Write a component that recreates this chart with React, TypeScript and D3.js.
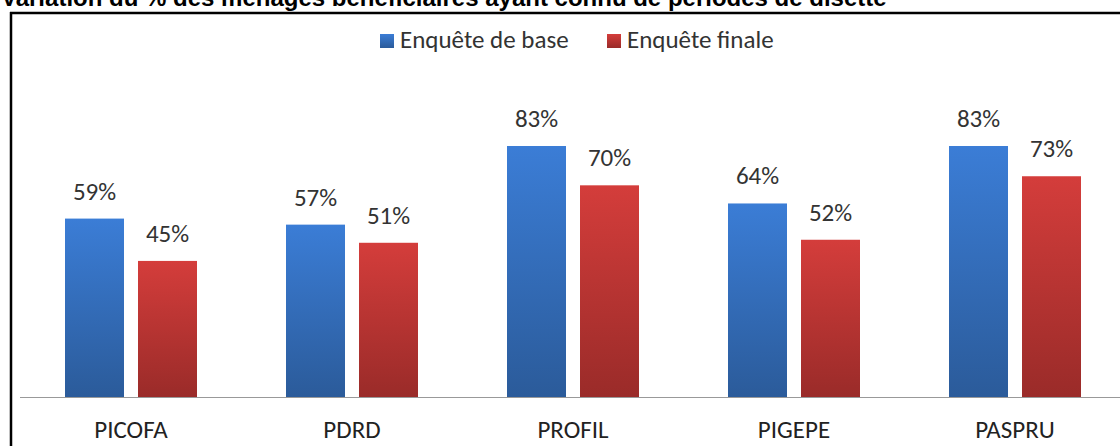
import React from "react";
import * as d3 from "d3";

const categories = ["PICOFA", "PDRD", "PROFIL", "PIGEPE", "PASPRU"];
const baseValues = [59, 57, 83, 64, 83];
const finalValues = [45, 51, 70, 52, 73];
const seriesNames = ["Enquête de base", "Enquête finale"];
const title = "Variation du % des ménages bénéficiaires ayant connu de périodes de disette";

const W = 1120;
const H = 446;
const FONT = "Carlito, Calibri, Lato, 'Open Sans', sans-serif";

export default function App() {
  const x = d3.scaleBand<string>().domain(categories).range([20.5, 1125.5]).paddingInner(0).paddingOuter(0);
  const y = d3.scaleLinear().domain([0, 100]).range([397, 94.6]);
  const barW = 59;
  const gap = 14;
  const series = [
    { name: seriesNames[0], values: baseValues, grad: "gBlue" },
    { name: seriesNames[1], values: finalValues, grad: "gRed" },
  ];
  const legendPos = [
    { sx: 380, tx: 400 },
    { sx: 607, tx: 627 },
  ];
  return (
    <svg width={W} height={H} style={{ position: "absolute", left: 0, top: 0, background: "#fff" }}>
      <defs>
        <linearGradient id="gBlue" x1="0" y1="0" x2="0" y2="1">
          <stop offset="0" stopColor="#3b7dd6" />
          <stop offset="1" stopColor="#2b5b9a" />
        </linearGradient>
        <linearGradient id="gRed" x1="0" y1="0" x2="0" y2="1">
          <stop offset="0" stopColor="#d43d3b" />
          <stop offset="1" stopColor="#9a2b29" />
        </linearGradient>
      </defs>
      <rect x={0} y={0} width={W} height={H} fill="#fff" />
      <text x={1} y={6} fontFamily="Arial, 'Liberation Sans', sans-serif" fontWeight="bold" fontSize={24} fill="#000">
        {title}
      </text>
      <line x1={10} y1={13} x2={W} y2={13} stroke="#000" strokeWidth={2.5} />
      <line x1={11} y1={12} x2={11} y2={H} stroke="#000" strokeWidth={2.5} />
      <g fontFamily={FONT} fontSize={25} fill="#333">
        {series.map((s, j) => (
          <g key={s.name}>
            <rect x={legendPos[j].sx} y={34} width={14} height={14} fill={`url(#${s.grad})`} />
            <text x={legendPos[j].tx} y={48}>{s.name}</text>
          </g>
        ))}
      </g>
      {categories.map((c, i) => {
        const cx = (x(c) as number) + x.bandwidth() / 2;
        return (
          <g key={c}>
            {series.map((s, j) => {
              const bx = j === 0 ? cx - gap / 2 - barW : cx + gap / 2;
              const v = s.values[i];
              return (
                <g key={s.name}>
                  <rect x={bx} y={y(v)} width={barW} height={y(0) - y(v)} fill={`url(#${s.grad})`} />
                  <text
                    x={bx + barW / 2}
                    y={y(v) - 19}
                    textAnchor="middle"
                    fontFamily={FONT}
                    fontSize={25}
                    fill="#333"
                  >
                    {v}%
                  </text>
                </g>
              );
            })}
            <text x={cx} y={438} textAnchor="middle" fontFamily={FONT} fontSize={25} fill="#222">
              {c}
            </text>
          </g>
        );
      })}
      <line x1={20} y1={397.5} x2={W} y2={397.5} stroke="#999" strokeWidth={1} />
    </svg>
  );
}
